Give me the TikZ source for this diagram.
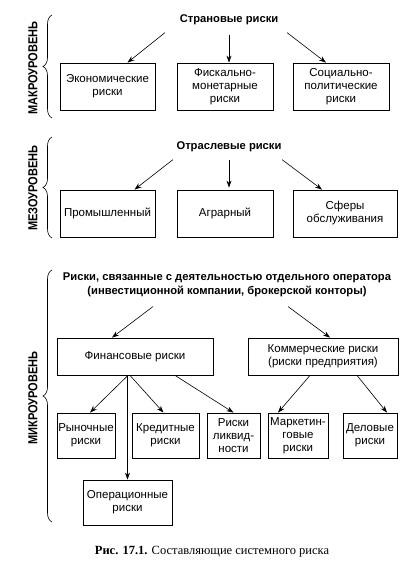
\documentclass[tikz,border=0pt]{standalone}
\usepackage{fontspec}
\setmainfont{Liberation Sans}
\newfontfamily\capfont{Liberation Serif}
\usetikzlibrary{arrows.meta,decorations.pathreplacing}

\begin{document}
\begin{tikzpicture}[x=1pt, y=1pt,
		box/.style={draw, line width=0.8pt, align=center, inner sep=0pt, font=\fontsize{11.5}{13}\selectfont},
		arr/.style={-{Stealth[length=7pt, width=5pt]}, line width=0.6pt},
		ttl/.style={font=\bfseries\fontsize{11.2}{14}\selectfont, align=center},
		lvl/.style={rotate=90, font=\bfseries\fontsize{13}{13}\selectfont},
		brc/.style={decorate, decoration={brace, amplitude=9pt}, line width=0.6pt}]
			%%%%% START %%%%%
			
			\useasboundingbox (0, 0) rectangle (412, -583);
			
			%%%%% MACRO %%%%%
			\node[lvl] (macro) at (33, -68) {\scalebox{0.85}[1]{МАКРОУРОВЕНЬ}};
			\draw[brc] (52, -118) -- (52, -15);
			
			\node[ttl] (strana) at (229, -20) {Страновые риски};
			
			\node[box, minimum width=95, minimum height=47] (econ) at (107.5, -86.5) {Экономические\\риски};
			\node[box, minimum width=96, minimum height=47] (fisc) at (225, -86.5) {Фискально-\\монетарные\\риски};
			\node[box, minimum width=96, minimum height=47] (soc) at (341, -86.5) {Социально-\\политические\\риски};
			
			\draw[arr] ([xshift=-64pt, yshift=-4pt]strana.south) -- ([xshift=20pt]econ.north);
			\draw[arr] ([yshift=-6pt]strana.south) -- ([xshift=4pt]fisc.north);
			\draw[arr] ([xshift=58pt, yshift=-4pt]strana.south) -- ([xshift=-15pt]soc.north);
			
			%%%%% MESO %%%%%
			\node[lvl] (meso) at (33, -188) {\scalebox{0.85}[1]{МЕЗОУРОВЕНЬ}};
			\draw[brc] (52, -238) -- (52, -137);
			
			\node[ttl] (otrasl) at (229, -147) {Отраслевые риски};
			
			\node[box, minimum width=95, minimum height=47] (prom) at (107.5, -213.5) {Промышленный};
			\node[box, minimum width=96, minimum height=47] (agr) at (225, -213.5) {Аграрный};
			\node[box, minimum width=104, minimum height=47] (sfer) at (345, -213.5) {Сферы\\обслуживания};
			
			\draw[arr] ([xshift=-56pt, yshift=-4pt]otrasl.south) -- ([xshift=27pt]prom.north);
			\draw[arr] ([yshift=-4pt]otrasl.south) -- ([xshift=4pt, yshift=2pt]agr.north);
			\draw[arr] ([xshift=53pt, yshift=-4pt]otrasl.south) -- ([xshift=-23pt]sfer.north);
			
			%%%%% MICRO %%%%%
			\node[lvl] (micro) at (33, -398) {\scalebox{0.85}[1]{МИКРОУРОВЕНЬ}};
			\draw[brc] (52, -522) -- (52, -270);
			
			\node[ttl] (oper) at (227, -285) {Риски, связанные с деятельностью отдельного оператора\\(инвестиционной компании, брокерской конторы)};
			
			\node[box, minimum width=156, minimum height=37] (fin) at (135, -356.5) {Финансовые риски};
			\node[box, minimum width=150, minimum height=37] (comm) at (323, -356.5) {Коммерческие риски\\(риски предприятия)};
			
			\draw[arr] ([xshift=-74pt, yshift=-6pt]oper.south) -- ([xshift=-23pt]fin.north);
			\draw[arr] ([xshift=61pt, yshift=-6pt]oper.south) -- ([xshift=7pt]comm.north);
			
			\node[box, minimum width=58, minimum height=45] (ryn) at (86, -435.5) {Рыночные\\риски};
			\node[box, minimum width=67, minimum height=45] (kred) at (165.5, -435.5) {Кредитные\\риски};
			\node[box, minimum width=53, minimum height=45] (likv) at (233.5, -435.5) {Риски\\ликвид-\\ности};
			\node[box, minimum width=60, minimum height=45] (mark) at (298, -435.5) {Маркетин-\\говые\\риски};
			\node[box, minimum width=54, minimum height=45] (del) at (370, -435.5) {Деловые\\риски};
			\node[box, minimum width=89, minimum height=45] (operc) at (127.5, -502.5) {Операционные\\риски};
			
			\draw[arr] ([xshift=-7pt]fin.south) -- ([xshift=4pt]ryn.north);
			\draw[arr] (fin.south -| operc.north) -- (operc.north);
			\draw[arr] ([xshift=-5pt]fin.south) -- ([xshift=-2pt]kred.north);
			\draw[arr] ([xshift=40pt]fin.south) -- (likv.north);
			\draw[arr] ([xshift=-13pt]comm.south) -- ([xshift=-20pt]mark.north);
			\draw[arr] ([xshift=34pt]comm.south) -- ([xshift=17pt]del.north);
			
			%%%%% CAPTION %%%%%
			\node[font=\capfont\fontsize{12.5}{14}\selectfont] (cap) at (212, -552) {\textbf{Рис. 17.1.} Составляющие системного риска};
			
			%%%%% END %%%%%
		\end{tikzpicture}
\end{document}
